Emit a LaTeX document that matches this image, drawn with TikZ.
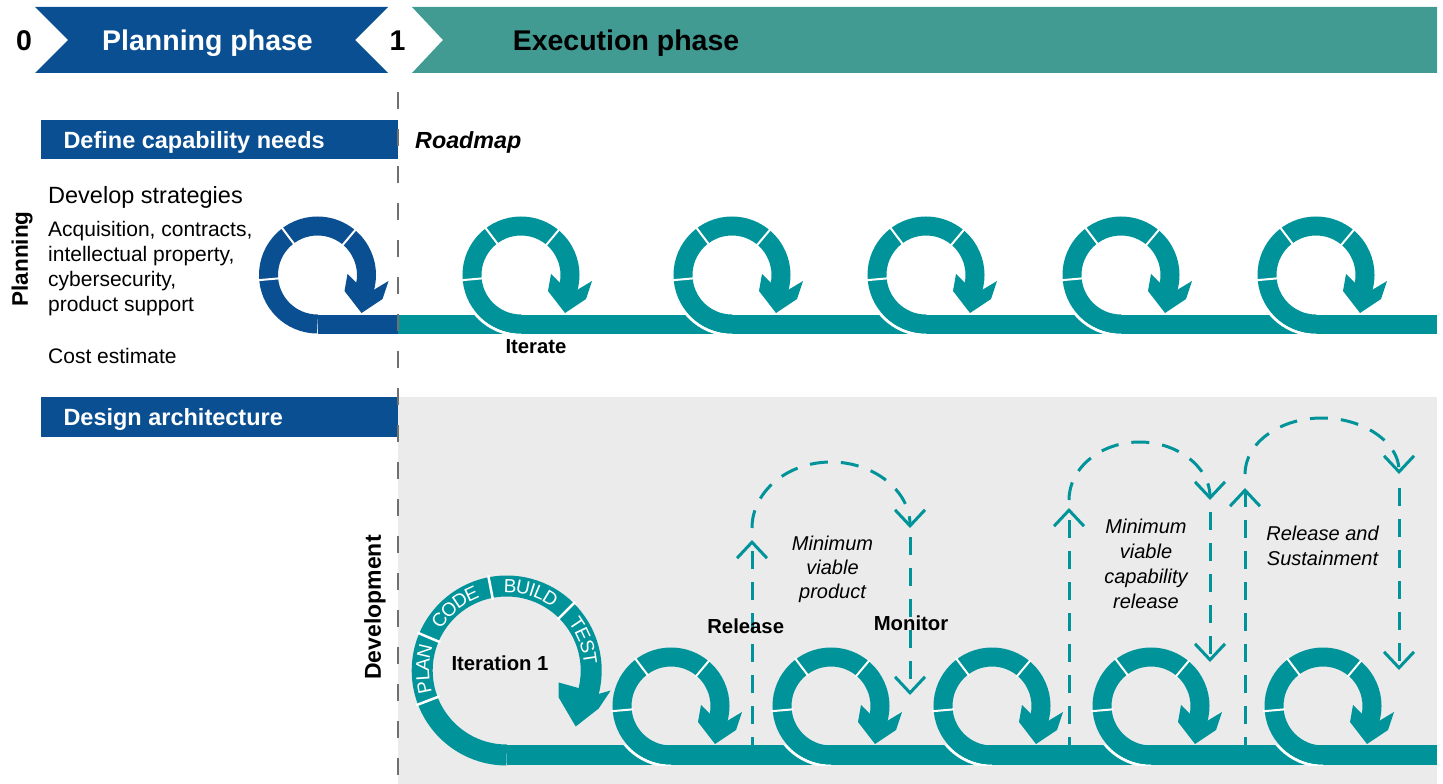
\documentclass[tikz,border=0pt]{standalone}
\usepackage{fontspec}
\setmainfont{Liberation Sans}
\usetikzlibrary{arrows.meta,decorations.text}
\definecolor{pblue}{HTML}{0A4F91}
\definecolor{hteal}{HTML}{419B93}
\definecolor{lteal}{HTML}{00949A}
\definecolor{bggray}{HTML}{EBEBEB}
\definecolor{divgray}{HTML}{707070}
\newcommand{\arcfont}{\fontsize{19}{19}\selectfont\color{white}}
% small loop body: #1 cx, #2 cy (screen px), #3 colour
\newcommand{\LoopBody}[3]{%
  \begin{scope}[shift={(#1,-#2)}]
    \draw[#3, line width=19pt] (270:49) arc[start angle=270, end angle=-18, radius=49];
    \fill[#3] (39,-8) -- (30,1) -- (27,-16) -- (44,-38) -- (65,-24) -- (71,-6) -- (56,-15) -- cycle;
    \foreach \a in {185,127,50} \draw[white, line width=2pt] (\a:38) -- (\a:60);
  \end{scope}}
% white edge where a loop crosses the incoming bar: #1 cx, #2 cy, #3 bar half width
\newcommand{\LoopCross}[3]{%
  \begin{scope}
    \clip (#1-75,-#2-49+#3) rectangle (#1,-#2-49-#3);
    \draw[white, line width=3pt] (#1,-#2) circle[radius=60];
  \end{scope}}
\tikzset{
  hdr/.style={inner sep=0pt, font=\fontsize{28.5}{30}\selectfont\bfseries, anchor=base},
  boxtxt/.style={inner sep=0pt, font=\fontsize{23.5}{26}\selectfont\bfseries, text=white, anchor=base west},
  body/.style={inner sep=0pt, font=\fontsize{21}{24}\selectfont, anchor=base west},
  lbl/.style={inner sep=0pt, font=\fontsize{20.3}{23}\selectfont\bfseries},
  itl/.style={inner sep=0pt, font=\fontsize{20}{23}\selectfont\itshape, anchor=base},
  tealdash/.style={lteal, line width=3pt, dash pattern=on 18pt off 13pt},
  barb/.style={-{Straight Barb[length=16pt,width=30pt]}},
  arctext/.style={decorate, decoration={text along path, text align=center, raise=-6.8pt, text={|\arcfont|#1}}},
}
\begin{document}
\begin{tikzpicture}[x=1pt,y=1pt]
\useasboundingbox (0,0) rectangle (1443,-784);
% ---------- header ----------
\fill[pblue] (35,-7) -- (388,-7) -- (355,-40) -- (388,-73) -- (35,-73) -- (68,-40) -- cycle;
\fill[hteal] (412,-7) -- (1437,-7) -- (1437,-73) -- (412,-73) -- (443,-40) -- cycle;
\node[hdr] (n0) at (24,-51) {0};
\node[hdr, text=white] (pp) at (207.5,-51) {Planning phase};
\node[hdr] (n1) at (397.5,-51) {1};
\node[hdr] (ep) at (626,-51) {Execution phase};
% ---------- grey development area ----------
\fill[bggray] (398,-397) rectangle (1437,-784);
% ---------- left boxes and texts ----------
\fill[pblue] (40.7,-120) rectangle (398,-159.3);
\node[boxtxt] (dcn) at (63.3,-148) {Define capability needs};
\fill[pblue] (40.7,-397) rectangle (398,-436.7);
\node[boxtxt] (da) at (63.3,-425.4) {Design architecture};
\node[inner sep=0pt, font=\fontsize{23.3}{26}\selectfont\bfseries\itshape, anchor=base west] (rm) at (415,-148) {Roadmap};
\node[inner sep=0pt, font=\fontsize{23.5}{26}\selectfont, anchor=base west] (ds) at (48,-203) {Develop strategies};
\node[body] (b1) at (48,-236) {Acquisition, contracts,};
\node[body] (b2) at (48,-261) {intellectual property,};
\node[body] (b3) at (48,-286) {cybersecurity,};
\node[body] (b4) at (48,-311) {product support};
\node[body] (ce) at (48,-363.5) {Cost estimate};
\node[inner sep=0pt, font=\fontsize{22.5}{25}\selectfont\bfseries, rotate=90] (pl) at (22,-259) {Planning};
\node[inner sep=0pt, font=\fontsize{23}{25}\selectfont\bfseries, rotate=90] (dev) at (375,-607.5) {Development};
% ---------- planning row ----------
\draw[pblue, line width=19pt] (317.5,-324) -- (398,-324);
\draw[lteal, line width=19pt] (398,-324) -- (1437,-324);
\LoopBody{317.5}{275}{pblue}
\foreach \cx in {521,732,926,1121,1316} {
  \LoopCross{\cx}{275}{9.5}
  \LoopBody{\cx}{275}{lteal}
}
\node[lbl] (it) at (536,-347) {Iterate};
% ---------- development row ----------
\draw[lteal, line width=20pt] (506.7,-755) -- (1437,-755);
\begin{scope}[shift={(506.7,-670.5)}]
  \draw[lteal, line width=21pt] (270:84.5) arc[start angle=270, end angle=-16, radius=84.5];
  \fill[lteal] (70,-17) -- (52,-12) -- (52,-27) -- (69,-56) -- (92,-38) -- (104,-20) -- (90,-24) -- cycle;
  \foreach \a in {201,157,101,45} \draw[white, line width=2.5pt] (\a:72) -- (\a:97);
  \path[arctext=PLAN] (205:84.5) arc[start angle=205, end angle=153, radius=84.5];
  \path[arctext=CODE] (155:84.5) arc[start angle=155, end angle=103, radius=84.5];
  \path[arctext=BUILD] (99:84.5) arc[start angle=99, end angle=47, radius=84.5];
  \path[arctext=TEST] (46:84.5) arc[start angle=46, end angle=-4, radius=84.5];
\end{scope}
\node[lbl] (it1) at (500,-663) {Iteration 1};
\foreach \cx in {671,831,992,1151,1323} {
  \LoopCross{\cx}{706}{10}
  \LoopBody{\cx}{706}{lteal}
}
% ---------- dashed release / monitor arrows ----------
\coordinate (a1) at (752,-755);  \coordinate (a1t) at (752,-540);
\coordinate (a2) at (752,-528);  
\coordinate (a3) at (910,-537);  \coordinate (a3t) at (910,-695);
\draw[tealdash, barb] (a1) -- (a1t);
\draw[tealdash, barb] (a2) arc[start angle=180, end angle=0, x radius=79, y radius=66];
\draw[tealdash, barb] (a3) -- (a3t);
\coordinate (b1) at (1069,-755); \coordinate (b1t) at (1069,-508);
\coordinate (b2) at (1069,-500);
\coordinate (b3) at (1210,-512); \coordinate (b3t) at (1210,-662);
\draw[tealdash, barb] (b1) -- (b1t);
\draw[tealdash, barb] (b2) arc[start angle=180, end angle=0, x radius=70.5, y radius=58];
\draw[tealdash, barb] (b3) -- (b3t);
\coordinate (c1) at (1245,-755); \coordinate (c1t) at (1245,-488);
\coordinate (c2) at (1245,-474);
\coordinate (c3) at (1399,-488); \coordinate (c3t) at (1399,-670);
\draw[tealdash, barb] (c1) -- (c1t);
\draw[tealdash, barb] (c2) arc[start angle=180, end angle=0, x radius=77, y radius=56];
\draw[tealdash, barb] (c3) -- (c3t);
\node[lbl] (rel) at (745.7,-626) {Release};
\node[lbl] (mon) at (911,-623.7) {Monitor};
\node[itl] (m1) at (832.5,-550) {Minimum};
\node[itl] (m2) at (832.5,-574) {viable};
\node[itl] (m3) at (832.5,-598) {product};
\node[itl] (c1t1) at (1146,-533) {Minimum};
\node[itl] (c1t2) at (1146,-558) {viable};
\node[itl] (c1t3) at (1146,-583) {capability};
\node[itl] (c1t4) at (1146,-608) {release};
\node[itl] (r1) at (1322.5,-540) {Release and};
\node[itl] (r2) at (1322.5,-565) {Sustainment};
% ---------- phase divider ----------
\coordinate (dtop) at (398,-92); \coordinate (dbot) at (398,-784);
\draw[divgray, line width=2.5pt, dash pattern=on 17pt off 20pt] (dtop) -- (dbot);
\end{tikzpicture}
\end{document}
